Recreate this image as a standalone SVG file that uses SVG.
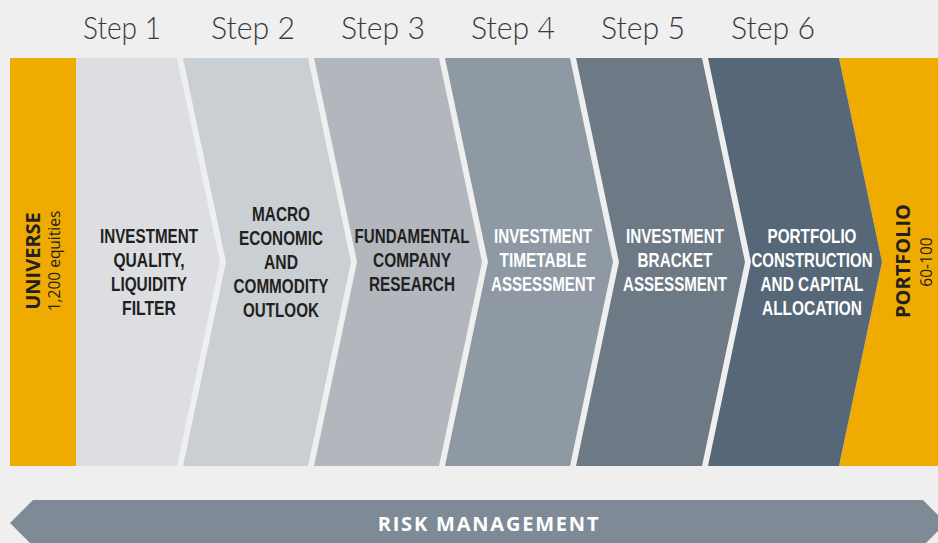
<svg xmlns="http://www.w3.org/2000/svg" width="938" height="543" viewBox="0 0 938 543">
<style>
.step{font-family:Lato,"Open Sans","Liberation Sans",sans-serif;font-weight:300;font-size:32px;fill:#3a3a3a;text-anchor:middle}
.lbl{font-family:"Liberation Sans Narrow","Liberation Sans",sans-serif;font-weight:bold;font-size:20px;text-anchor:middle}
.dk{fill:#231f20}
.wt{fill:#ffffff}
.vbig{font-family:"Open Sans","Liberation Sans",sans-serif;font-weight:bold;font-size:20px;fill:#231f20;text-anchor:middle}
.vsm{font-family:"Open Sans","Liberation Sans",sans-serif;font-size:15.5px;fill:#231f20;text-anchor:middle}
.risk{font-family:"Open Sans","Liberation Sans",sans-serif;font-weight:bold;font-size:20px;fill:#ffffff;text-anchor:middle;letter-spacing:1.8px}
</style>
<rect width="938" height="543" fill="#efefef"/>
<g id="headers">
<text class="step" x="122" y="39" textLength="78" lengthAdjust="spacingAndGlyphs">Step 1</text>
<text class="step" x="253" y="39" textLength="84" lengthAdjust="spacingAndGlyphs">Step 2</text>
<text class="step" x="383" y="39" textLength="84" lengthAdjust="spacingAndGlyphs">Step 3</text>
<text class="step" x="513" y="39" textLength="84" lengthAdjust="spacingAndGlyphs">Step 4</text>
<text class="step" x="643" y="39" textLength="84" lengthAdjust="spacingAndGlyphs">Step 5</text>
<text class="step" x="773" y="39" textLength="84" lengthAdjust="spacingAndGlyphs">Step 6</text>
</g>
<g id="universe">
<rect x="10" y="58" width="66" height="408" fill="#f0ab00"/>
<text class="vbig" transform="translate(40,261) rotate(-90)">UNIVERSE</text>
<text class="vsm" transform="translate(60,261) rotate(-90)">1,200 equities</text>
</g>
<g id="portfolio">
<polygon points="839,58 938,58 938,466 839,466 882,262" fill="#f0ab00"/>
<text class="vbig" transform="translate(910,261) rotate(-90)">PORTFOLIO</text>
<text class="vsm" transform="translate(932,262) rotate(-90)">60-100</text>
</g>
<g id="step1">
<polygon points="76,58 177,58 220,262 177,466 76,466" fill="#dcdee1"/>
<text class="lbl dk" x="149" y="243" textLength="98" lengthAdjust="spacingAndGlyphs">INVESTMENT</text>
<text class="lbl dk" x="149" y="267" textLength="71" lengthAdjust="spacingAndGlyphs">QUALITY,</text>
<text class="lbl dk" x="149" y="291" textLength="76" lengthAdjust="spacingAndGlyphs">LIQUIDITY</text>
<text class="lbl dk" x="149" y="315" textLength="54" lengthAdjust="spacingAndGlyphs">FILTER</text>
</g>
<g id="step2">
<polygon points="183,58 308,58 351,262 308,466 183,466 226,262" fill="#cacfd3"/>
<text class="lbl dk" x="281" y="221" textLength="58" lengthAdjust="spacingAndGlyphs">MACRO</text>
<text class="lbl dk" x="281" y="245" textLength="84" lengthAdjust="spacingAndGlyphs">ECONOMIC</text>
<text class="lbl dk" x="281" y="269" textLength="34" lengthAdjust="spacingAndGlyphs">AND</text>
<text class="lbl dk" x="281" y="293" textLength="95" lengthAdjust="spacingAndGlyphs">COMMODITY</text>
<text class="lbl dk" x="281" y="317" textLength="76" lengthAdjust="spacingAndGlyphs">OUTLOOK</text>
</g>
<g id="step3">
<polygon points="314,58 439,58 482,262 439,466 314,466 357,262" fill="#b2b7be"/>
<text class="lbl dk" x="412" y="243" textLength="115" lengthAdjust="spacingAndGlyphs">FUNDAMENTAL</text>
<text class="lbl dk" x="412" y="267" textLength="78" lengthAdjust="spacingAndGlyphs">COMPANY</text>
<text class="lbl dk" x="412" y="291" textLength="86" lengthAdjust="spacingAndGlyphs">RESEARCH</text>
</g>
<g id="step4">
<polygon points="445,58 570,58 613,262 570,466 445,466 488,262" fill="#8e99a3"/>
<text class="lbl wt" x="543" y="243" textLength="98" lengthAdjust="spacingAndGlyphs">INVESTMENT</text>
<text class="lbl wt" x="543" y="267" textLength="87" lengthAdjust="spacingAndGlyphs">TIMETABLE</text>
<text class="lbl wt" x="543" y="291" textLength="104" lengthAdjust="spacingAndGlyphs">ASSESSMENT</text>
</g>
<g id="step5">
<polygon points="576,58 702,58 745,262 702,466 576,466 619,262" fill="#6d7a86"/>
<text class="lbl wt" x="675" y="243" textLength="98" lengthAdjust="spacingAndGlyphs">INVESTMENT</text>
<text class="lbl wt" x="675" y="267" textLength="75" lengthAdjust="spacingAndGlyphs">BRACKET</text>
<text class="lbl wt" x="675" y="291" textLength="104" lengthAdjust="spacingAndGlyphs">ASSESSMENT</text>
</g>
<g id="step6">
<polygon points="708,58 839,58 882,262 839,466 708,466 751,262" fill="#566777"/>
<text class="lbl wt" x="812" y="243" textLength="89" lengthAdjust="spacingAndGlyphs">PORTFOLIO</text>
<text class="lbl wt" x="812" y="267" textLength="121" lengthAdjust="spacingAndGlyphs">CONSTRUCTION</text>
<text class="lbl wt" x="812" y="291" textLength="103" lengthAdjust="spacingAndGlyphs">AND CAPITAL</text>
<text class="lbl wt" x="812" y="315" textLength="100" lengthAdjust="spacingAndGlyphs">ALLOCATION</text>
</g>
<g id="risk-management">
<polygon points="33,500 923,500 946,523 923,546 33,546 10,523" fill="#7e8b97"/>
<text class="risk" x="489" y="531">RISK MANAGEMENT</text>
</g>
</svg>
